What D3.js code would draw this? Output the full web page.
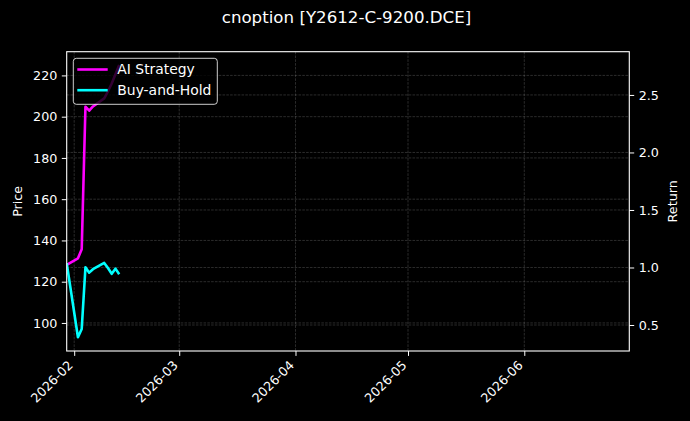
<!DOCTYPE html>
<html>
<head>
<meta charset="utf-8">
<script src="https://cdn.jsdelivr.net/npm/d3@7"></script>
<style>
  html, body { margin: 0; padding: 0; background: #000; }
  svg { display: block; font-family: "DejaVu Sans", sans-serif; }
</style>
</head>
<body>
<svg id="chart" width="690" height="421"></svg>
<script>
// ---- data ----
const chartTitle = "cnoption [Y2612-C-9200.DCE]";
const dates = ["2026-01-30","2026-02-02","2026-02-03","2026-02-04","2026-02-05","2026-02-06",
               "2026-02-09","2026-02-10","2026-02-11","2026-02-12","2026-02-13"];
const aiStrategy = [1.022, 1.080, 1.158, 2.398, 2.363, 2.400, 2.470, 2.530, 2.600, 2.680, 2.760];
const buyAndHold = [1.037, 0.393, 0.465, 1.002, 0.955, 0.985, 1.040, 0.995, 0.945, 0.990, 0.942];
const seriesNames = ["AI Strategy", "Buy-and-Hold"];
const seriesColors = ["#ff00ff", "#00ffff"];
const xDomain = ["2026-01-30", "2026-06-29"];
const priceDomain = [86.4, 231.5];
const returnDomain = [0.274, 2.876];
const priceTicks = [100, 120, 140, 160, 180, 200, 220];
const returnTicks = [0.5, 1.0, 1.5, 2.0, 2.5];
const xTickLabels = ["2026-02", "2026-03", "2026-04", "2026-05", "2026-06"];

// ---- layout ----
const W = 690, H = 421;
const L = 66.7, R = 629.3, T = 51.7, B = 351;
const parse = d3.utcParse("%Y-%m-%d");
const parseMonth = d3.utcParse("%Y-%m");
const svg = d3.select("#chart");
svg.append("rect").attr("width", W).attr("height", H).attr("fill", "#000");

const x = d3.scaleUtc().domain(xDomain.map(parse)).range([L, R]);
const yP = d3.scaleLinear().domain(priceDomain).range([B, T]);
const yR = d3.scaleLinear().domain(returnDomain).range([B, T]);
const xTicks = xTickLabels.map(parseMonth);

// grid
const grid = svg.append("g").attr("stroke", "#9a9a9a").attr("stroke-opacity", 0.4)
  .attr("stroke-width", 0.7).attr("stroke-dasharray", "2.6,1.2");
grid.selectAll("line.vx").data(xTicks).join("line")
  .attr("x1", d => x(d)).attr("x2", d => x(d)).attr("y1", T).attr("y2", B);
grid.selectAll("line.hp").data(priceTicks).join("line")
  .attr("x1", L).attr("x2", R).attr("y1", d => yP(d)).attr("y2", d => yP(d));
grid.selectAll("line.hr").data(returnTicks).join("line")
  .attr("x1", L).attr("x2", R).attr("y1", d => yR(d)).attr("y2", d => yR(d));

// lines
svg.append("clipPath").attr("id", "clip").append("rect")
  .attr("x", L).attr("y", T).attr("width", R - L).attr("height", B - T);
const series = [aiStrategy, buyAndHold];
const lineGen = d3.line().x((d, i) => x(parse(dates[i]))).y(d => yR(d));
series.forEach((s, k) => {
  svg.append("path").datum(s).attr("d", lineGen)
    .attr("fill", "none").attr("stroke", seriesColors[k]).attr("stroke-width", 2.6)
    .attr("stroke-linejoin", "round").attr("clip-path", "url(#clip)");
});

// axes
const tickFont = 12.7;
const axLeft = svg.append("g").attr("transform", `translate(${L},0)`)
  .call(d3.axisLeft(yP).tickValues(priceTicks).tickSize(4.9).tickPadding(4.5).tickFormat(d3.format("d")));
const axRight = svg.append("g").attr("transform", `translate(${R},0)`)
  .call(d3.axisRight(yR).tickValues(returnTicks).tickSize(4.9).tickPadding(4.5).tickFormat(d3.format(".1f")));
const axBottom = svg.append("g").attr("transform", `translate(0,${B})`)
  .call(d3.axisBottom(x).tickValues(xTicks).tickSize(4.9).tickFormat(d3.utcFormat("%Y-%m")));
[axLeft, axRight, axBottom].forEach(a => {
  a.select(".domain").remove();
  a.selectAll(".tick line").attr("stroke", "#fff").attr("stroke-width", 1);
  a.selectAll(".tick text").attr("fill", "#fff").attr("font-size", tickFont)
    .attr("font-family", "DejaVu Sans");
});
axBottom.selectAll(".tick text")
  .attr("text-anchor", "end").attr("dy", null).attr("y", null)
  .attr("transform", "translate(-1,15) rotate(-45)");

// spines
svg.append("rect").attr("x", L).attr("y", T).attr("width", R - L).attr("height", B - T)
  .attr("fill", "none").attr("stroke", "#fff").attr("stroke-width", 1.1);

// labels
svg.append("text").attr("x", 346.5).attr("y", 23).attr("text-anchor", "middle")
  .attr("fill", "#fff").attr("font-size", 16.67).text(chartTitle);
svg.append("text").attr("transform", `translate(21.5,${(T + B) / 2}) rotate(-90)`)
  .attr("text-anchor", "middle").attr("fill", "#fff").attr("font-size", tickFont).text("Price");
svg.append("text").attr("transform", `translate(676.5,${(T + B) / 2}) rotate(-90)`)
  .attr("text-anchor", "middle").attr("fill", "#fff").attr("font-size", tickFont).text("Return");

// legend
const lg = svg.append("g");
lg.append("rect").attr("x", 73.3).attr("y", 58.3).attr("width", 144).attr("height", 46)
  .attr("rx", 3).attr("fill", "#000").attr("fill-opacity", 0.8)
  .attr("stroke", "#fff").attr("stroke-opacity", 0.8).attr("stroke-width", 1);
seriesNames.forEach((name, k) => {
  const cy = 69.5 + k * 20.7;
  lg.append("line").attr("x1", 77.3).attr("x2", 107.7).attr("y1", cy).attr("y2", cy)
    .attr("stroke", seriesColors[k]).attr("stroke-width", 2.6);
  lg.append("text").attr("x", 117.3).attr("y", cy + 4.8).attr("fill", "#fff")
    .attr("font-size", 13.9).text(name);
});
</script>
</body>
</html>
